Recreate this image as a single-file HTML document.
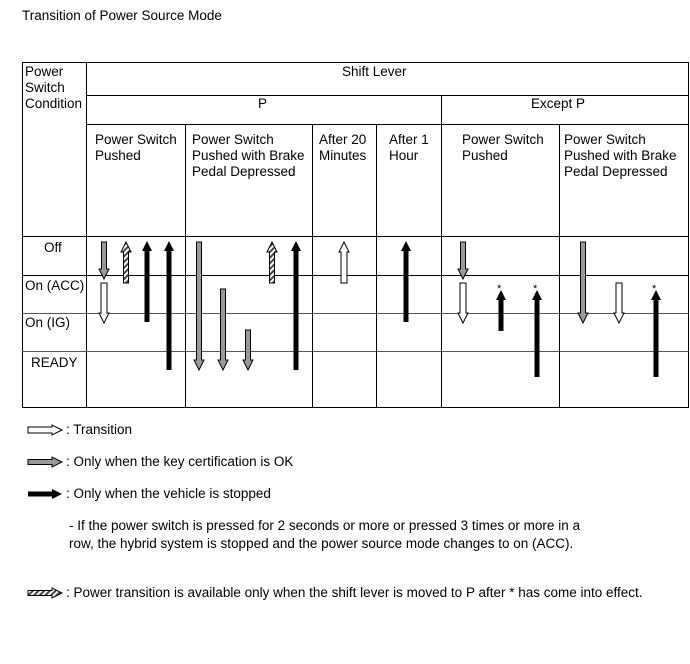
<!DOCTYPE html>
<html><head><meta charset="utf-8"><style>
body{margin:0;background:#fff;width:690px;height:659px;overflow:hidden}
svg text{font-family:"Liberation Sans",Arial,sans-serif;font-size:13.5px;fill:#000}
</style></head><body>
<svg id="s" width="690" height="659" xmlns="http://www.w3.org/2000/svg">
<defs><pattern id="h" width="4" height="4" patternUnits="userSpaceOnUse" patternTransform="rotate(45)"><rect width="4" height="4" fill="#fff"/><rect width="2" height="4" fill="#444"/></pattern></defs>
<text x="22" y="20">Transition of Power Source Mode</text>
<g stroke="#000" stroke-width="1" fill="none">
<rect x="22.5" y="62.5" width="666" height="345"/>
<line x1="86.5" y1="62" x2="86.5" y2="407"/>
<line x1="86" y1="95.5" x2="689" y2="95.5"/>
<line x1="86" y1="124.5" x2="689" y2="124.5"/>
<line x1="22" y1="236.5" x2="689" y2="236.5"/>
<line x1="22" y1="275.5" x2="689" y2="275.5"/>
<line x1="22" y1="313.5" x2="689" y2="313.5" stroke="#555"/>
<line x1="22" y1="351.5" x2="689" y2="351.5" stroke="#555"/>
<line x1="441.5" y1="95" x2="441.5" y2="407"/>
<line x1="185.5" y1="124" x2="185.5" y2="407"/>
<line x1="312.5" y1="124" x2="312.5" y2="407"/>
<line x1="376.5" y1="124" x2="376.5" y2="407"/>
<line x1="559.5" y1="124" x2="559.5" y2="407"/>
</g>
<text x="25" y="76">Power</text><text x="25" y="92">Switch</text><text x="25" y="108">Condition</text>
<text x="342" y="76">Shift Lever</text>
<text x="258" y="108">P</text>
<text x="531" y="108">Except P</text>
<text x="95" y="144">Power Switch</text><text x="95" y="160">Pushed</text>
<text x="192" y="144">Power Switch</text><text x="192" y="160">Pushed with Brake</text><text x="192" y="176">Pedal Depressed</text>
<text x="319" y="144">After 20</text><text x="319" y="160">Minutes</text>
<text x="389" y="144">After 1</text><text x="389" y="160">Hour</text>
<text x="462" y="144">Power Switch</text><text x="462" y="160">Pushed</text>
<text x="564" y="144">Power Switch</text><text x="564" y="160">Pushed with Brake</text><text x="564" y="176">Pedal Depressed</text>
<text x="44" y="252">Off</text>
<text x="25" y="290">On (ACC)</text>
<text x="25" y="327">On (IG)</text>
<text x="31" y="367">READY</text>
<text x="497" y="292" style="font-size:11px">*</text>
<text x="533" y="292" style="font-size:11px">*</text>
<text x="652" y="292" style="font-size:11px">*</text>
<text x="66" y="434">: Transition</text>
<text x="66" y="466">: Only when the key certification is OK</text>
<text x="66" y="498">: Only when the vehicle is stopped</text>
<text x="69" y="530">- If the power switch is pressed for 2 seconds or more or pressed 3 times or more in a</text>
<text x="69" y="548">row, the hybrid system is stopped and the power source mode changes to on (ACC).</text>
<text x="66" y="597">: Power transition is available only when the shift lever is moved to P after * has come into effect.</text>
<g id="a"></g>
</svg>
<script>
var g=document.getElementById('a'),out='';
var F={w:'#fff',g:'#999',b:'#000',h:'url(#h)'};
function v(x,y1,y2,t,dir){var w=t=='w'?3:2.5,hw=5,hl=10,p;
 if(dir=='d'){p=[[x-w,y1],[x+w,y1],[x+w,y2-hl],[x+hw,y2-hl],[x,y2],[x-hw,y2-hl],[x-w,y2-hl]];}
 else{p=[[x-w,y2],[x+w,y2],[x+w,y1+hl],[x+hw,y1+hl],[x,y1],[x-hw,y1+hl],[x-w,y1+hl]];}
 out+='<polygon points="'+p.map(a=>a.join(',')).join(' ')+'" fill="'+F[t]+'" stroke="#000" stroke-width="'+(t=='b'?0:1)+'"/>';}
function hz(x1,x2,y,t){var w=t=='w'?3:2.5,p=[[x1,y-w],[x2-10,y-w],[x2-10,y-5],[x2,y],[x2-10,y+5],[x2-10,y+w],[x1,y+w]];
 out+='<polygon points="'+p.map(a=>a.join(',')).join(' ')+'" fill="'+F[t]+'" stroke="#000" stroke-width="'+(t=='b'?0:1)+'"/>';}
v(104,242,279,'g','d');v(104,283,323,'w','d');v(126,242,283,'h','u');v(147,241,322,'b','u');v(169,241,370,'b','u');
v(199,242,370,'g','d');v(223,289,370,'g','d');v(248,330,370,'g','d');v(272,242,283,'h','u');v(296,241,370,'b','u');
v(344,242,283,'w','u');v(406,241,322,'b','u');
v(463,242,279,'g','d');v(463,283,323,'w','d');v(501,290,331,'b','u');v(537,290,377,'b','u');
v(583,242,323,'g','d');v(619,283,323,'w','d');v(656,290,377,'b','u');
hz(28,62,430,'w');hz(28,62,462,'g');hz(28,62,494,'b');hz(28,62,593,'h');
g.innerHTML=out;
</script>
</body></html>
